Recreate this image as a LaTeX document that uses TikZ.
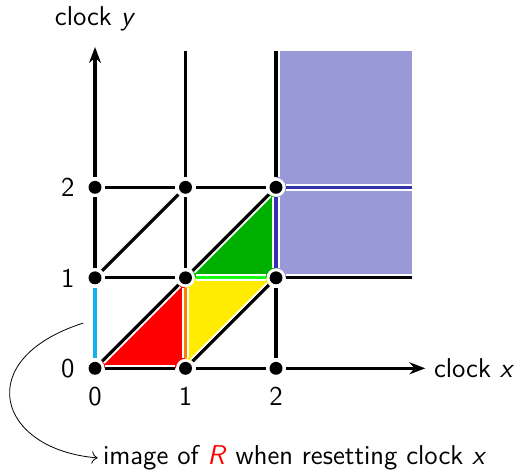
\documentclass[tikz,border=0pt]{standalone}
\usepackage{tikz}
\usetikzlibrary{arrows.meta, positioning, calc}
\definecolor{regred}{RGB}{255,0,0}
\definecolor{regyellow}{RGB}{255,236,0}
\definecolor{reggreen}{RGB}{0,176,0}
\definecolor{regblue}{RGB}{153,153,216}
\definecolor{edgecyan}{RGB}{20,176,240}
\definecolor{edgeorange}{RGB}{255,128,0}
\definecolor{edgegreen}{RGB}{20,255,20}
\definecolor{edgeblue}{RGB}{51,51,170}

\begin{document}
\begin{tikzpicture}[x=1.6cm, y=1.6cm,
    font=\sffamily\fontsize{13.7}{16}\selectfont,
    dot/.style={circle, fill=black, inner sep=0pt, minimum size=6.5pt, outer sep=1.8pt,
        preaction={draw=white, line width=3pt}},
    edge/.style={line width=1.6pt, preaction={draw=white, line width=3.6pt}},
    axis/.style={line width=1.6pt, -{Stealth[length=8pt, width=6pt]}},
    lbl/.style={inner sep=1pt}
]
    \useasboundingbox (-1.05,-1.15) rectangle (4.63,4.07);

    \foreach \i in {0,1,2}
        \foreach \j in {0,1,2}
            \coordinate (c\i\j) at (\i,\j);

    \fill[regblue] (2,1) rectangle (3.5,3.51);
    \fill[regred] (c00) -- (c10) -- (c11) -- cycle;
    \fill[regyellow] (c10) -- (c21) -- (c11) -- cycle;
    \fill[reggreen] (c11) -- (c22) -- (c21) -- cycle;

    \foreach \i in {0,1,2}
        \foreach \j in {0,1,2}
            \node[dot] (p\i\j) at (c\i\j) {};

    \coordinate (xend) at (3.65,0);
    \coordinate (yend) at (0,3.55);
    \coordinate (t1) at (1,3.51);
    \coordinate (t2) at (2,3.51);
    \coordinate (r1) at (3.5,1);
    \coordinate (r2) at (3.5,2);

    \draw[edge] (p00) -- (p10);
    \draw[edge] (p10) -- (p20);
    \draw[edge] (p01) -- (p11);
    \draw[edge, edgegreen] (p11) -- (p21);
    \draw[edge] (p21) -- (r1);
    \draw[edge] (p02) -- (p12);
    \draw[edge] (p12) -- (p22);
    \draw[edge, edgeblue] (p22) -- (r2);

    \draw[edge, edgecyan] (p00) -- (p01);
    \draw[edge] (p01) -- (p02);
    \draw[edge, edgeorange] (p10) -- (p11);
    \draw[edge] (p11) -- (p12);
    \draw[edge] (p12) -- (t1);
    \draw[edge] (p20) -- (p21);
    \draw[edge, edgeblue] (p21) -- (p22);
    \draw[edge] (p22) -- (t2);

    \draw[edge] (p00) -- (p11);
    \draw[edge] (p11) -- (p22);
    \draw[edge] (p01) -- (p12);
    \draw[edge] (p10) -- (p21);

    \draw[axis] (p20) -- (xend);
    \draw[axis] (p02) -- (yend);

    \node[lbl] (lx0) at (0,-0.31) {0};
    \node[lbl] (lx1) at (1,-0.31) {1};
    \node[lbl] (lx2) at (2,-0.31) {2};
    \node[lbl] (ly0) at (-0.3,0) {0};
    \node[lbl] (ly1) at (-0.3,1) {1};
    \node[lbl] (ly2) at (-0.3,2) {2};
    \node[lbl, anchor=west] (clkx) at (3.72,0) {clock \textit{x}};
    \node[lbl] (clky) at (0,3.86) {clock \textit{y}};

    \coordinate (src) at (-0.13,0.5);
    \node[anchor=west, inner sep=2.5pt] (img) at (0.03,-0.99)
        {image of \textcolor{regred}{\textit{R}} when resetting clock \textit{x}};
    \draw[thin, -{To[length=3pt]}] (src) .. controls (-1.38,0.1) and (-1.08,-0.9) .. (img.west);
\end{tikzpicture}
\end{document}
